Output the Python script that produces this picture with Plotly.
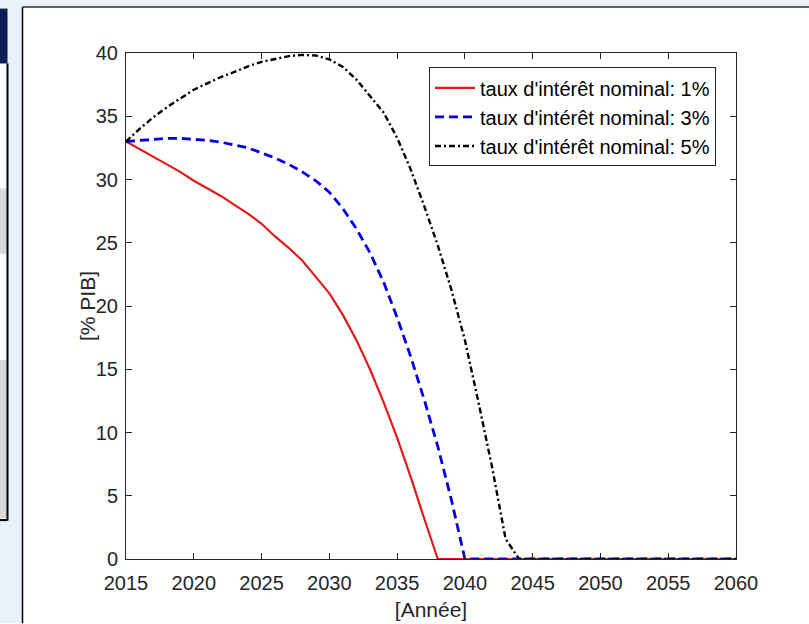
import plotly.graph_objects as go

years = list(range(2015, 2061))

taux_1 = [33.0, 32.4, 31.8, 31.2, 30.6, 29.9, 29.3, 28.7, 28.0, 27.3,
          26.5, 25.5, 24.6, 23.6, 22.3, 21.0, 19.3, 17.3, 15.0, 12.4,
          9.6, 6.5, 3.2, 0.0] + [0.0] * 22

taux_3 = [33.0, 33.1, 33.2, 33.25, 33.25, 33.2, 33.1, 32.95, 32.75, 32.5,
          32.1, 31.7, 31.2, 30.6, 29.9, 29.0, 27.7, 26.1, 24.2, 21.9,
          19.1, 16.0, 12.6, 8.9, 4.7, 0.0] + [0.0] * 20

taux_5 = [33.0, 34.0, 34.9, 35.7, 36.4, 37.1, 37.6, 38.1, 38.5, 38.95,
          39.3, 39.55, 39.75, 39.85, 39.8, 39.5, 38.9, 37.9, 36.6, 35.3,
          33.3, 30.8, 27.9, 24.8, 21.3, 17.3, 12.4, 7.3, 1.6, 0.0] + [0.0] * 16

series_names = ["taux d'intérêt nominal: 1%",
                "taux d'intérêt nominal: 3%",
                "taux d'intérêt nominal: 5%"]

x_ticks = list(range(2015, 2061, 5))
y_ticks = list(range(0, 41, 5))

FONT = "Liberation Sans, Arial, Helvetica, sans-serif"
TXT = "#262626"

fig = go.Figure()
fig.add_trace(go.Scatter(x=years, y=taux_1, mode="lines", name=series_names[0],
                         line=dict(color="#e31a1c", width=2.2, dash="solid")))
fig.add_trace(go.Scatter(x=years, y=taux_3, mode="lines", name=series_names[1],
                         line=dict(color="#0000e0", width=2.8, dash="9px,5px")))
fig.add_trace(go.Scatter(x=years, y=taux_5, mode="lines", name=series_names[2],
                         line=dict(color="#000000", width=2.4, dash="6px,3px,2px,3px")))

# geometry (pixels) of the plot area
W, H = 809, 624
L, R, T, B = 126, 736, 52.5, 559.5
pw, ph = R - L, B - T


def px(xp):
    return (xp - L) / pw


def py(yp):
    return (B - yp) / ph


shapes = [
    # slide background strip on the left and top
    dict(type="rect", xref="paper", yref="paper", x0=px(0), x1=px(W), y0=py(0), y1=py(6.5),
         fillcolor="#eaf2fa", line=dict(width=0), layer="below"),
    dict(type="rect", xref="paper", yref="paper", x0=px(0), x1=px(22.5), y0=py(H), y1=py(0),
         fillcolor="#e9f1fa", line=dict(width=0), layer="below"),
    dict(type="rect", xref="paper", yref="paper", x0=px(0), x1=px(7.5), y0=py(63), y1=py(521),
         fillcolor="#ffffff", line=dict(width=0), layer="below"),
    dict(type="rect", xref="paper", yref="paper", x0=px(0), x1=px(7), y0=py(254), y1=py(188),
         fillcolor="#d9d9d9", line=dict(width=0), layer="below"),
    dict(type="rect", xref="paper", yref="paper", x0=px(0), x1=px(7), y0=py(519), y1=py(360),
         fillcolor="#d9d9d9", line=dict(width=0), layer="below"),
    dict(type="rect", xref="paper", yref="paper", x0=px(0), x1=px(7.5), y0=py(63), y1=py(8),
         fillcolor="#0b1f55", line=dict(width=0), layer="below"),
    dict(type="line", xref="paper", yref="paper", x0=px(7.5), x1=px(7.5), y0=py(63), y1=py(521),
         line=dict(color="#000000", width=2)),
    dict(type="line", xref="paper", yref="paper", x0=px(0), x1=px(7.5), y0=py(520.5), y1=py(520.5),
         line=dict(color="#000000", width=2)),
    # figure window border
    dict(type="line", xref="paper", yref="paper", x0=px(22.5), x1=px(22.5), y0=py(6.5), y1=py(H),
         line=dict(color="#000000", width=1.5)),
    dict(type="line", xref="paper", yref="paper", x0=px(22.5), x1=px(W), y0=py(6.5), y1=py(6.5),
         line=dict(color="#333333", width=1.5)),
]

fig.update_layout(
    width=W, height=H,
    margin=dict(l=L, r=W - R, t=T, b=H - B, pad=0, autoexpand=False),
    paper_bgcolor="#ffffff",
    plot_bgcolor="#ffffff",
    font=dict(family=FONT, size=20, color=TXT),
    showlegend=True,
    legend=dict(x=px(429), y=py(67), xanchor="left", yanchor="top",
                bgcolor="#ffffff", bordercolor=TXT, borderwidth=1,
                font=dict(family=FONT, size=20, color="#000000"),
                tracegroupgap=0, itemwidth=40),
    shapes=shapes,
    annotations=[dict(text="[% PIB]", xref="paper", yref="paper", x=px(87), y=0.5,
                      xanchor="center", yanchor="middle", textangle=-90, showarrow=False,
                      font=dict(family=FONT, size=21, color=TXT))],
    xaxis=dict(range=[2015, 2060], tickvals=x_ticks, ticks="inside", ticklen=6,
               tickcolor=TXT, showline=True, linecolor=TXT, linewidth=1,
               mirror="ticks", showgrid=False, zeroline=False, automargin=False,
               ticklabelstandoff=6,
               tickfont=dict(size=20, color=TXT),
               title=dict(text="[Année]", font=dict(size=21, color=TXT), standoff=9)),
    yaxis=dict(range=[0, 40], tickvals=y_ticks, ticks="inside", ticklen=6,
               tickcolor=TXT, showline=True, linecolor=TXT, linewidth=1,
               mirror="ticks", showgrid=False, zeroline=False, automargin=False,
               ticklabelstandoff=3,
               tickfont=dict(size=20, color=TXT)),
)

fig.write_html("out.html", config={"displayModeBar": False},
               post_script="document.body.style.margin='0';document.body.style.overflow='hidden';")
